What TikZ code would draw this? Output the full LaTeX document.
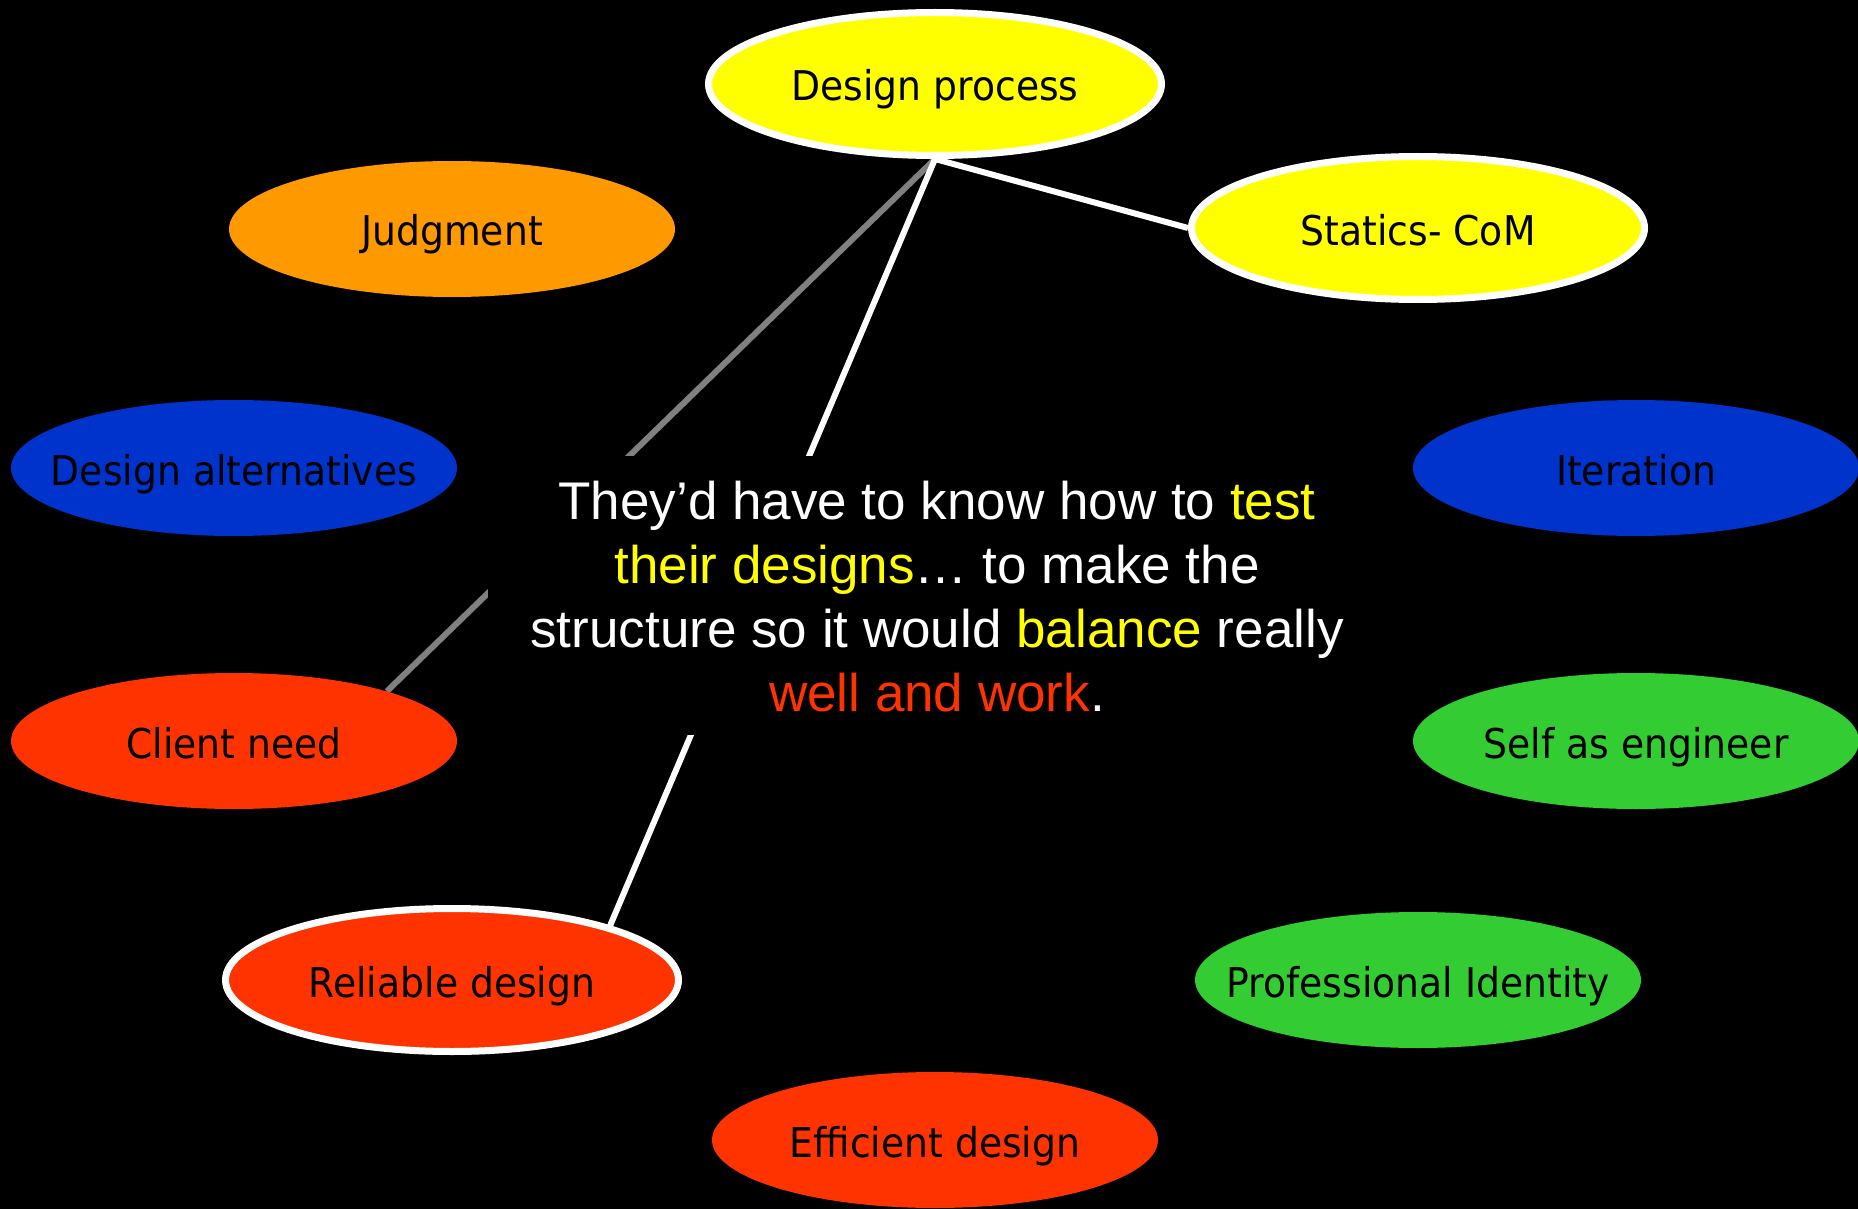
\documentclass[tikz,border=0pt]{standalone}
\usepackage{fontspec}
\newfontfamily\ellfont[FakeStretch=0.92]{DejaVu Sans}
\newfontfamily\quotefont{Liberation Sans}
\usetikzlibrary{shapes.geometric}
\definecolor{cyellow}{HTML}{FFFF00}
\definecolor{corange}{HTML}{FF9900}
\definecolor{cblue}{HTML}{0033CC}
\definecolor{cred}{HTML}{FF3300}
\definecolor{cgreen}{HTML}{33CC33}
\definecolor{cgray}{HTML}{808080}
\pgfdeclarelayer{bg}
\pgfsetlayers{bg,main}
\begin{document}
\begin{tikzpicture}[x=1pt,y=-1pt,
  concept/.style={ellipse, inner sep=0pt, minimum width=446pt, minimum height=136pt,
    text height=40pt, text depth=6pt, text=black,
    font=\ellfont\fontsize{41}{49}\selectfont},
  ringed/.style={concept, draw=white, line width=7pt, minimum width=453pt, minimum height=143pt},
  whiteline/.style={draw=white, line width=6pt},
  grayline/.style={draw=cgray, line width=6pt},
  quoteline/.style={anchor=base, inner sep=0pt, text=white,
    font=\quotefont\fontsize{53}{64}\selectfont},
  coverbox/.style={fill=black, inner sep=0pt, minimum width=896pt, minimum height=279pt}]
\useasboundingbox (0,0) rectangle (1858,1209);
\clip (0,0) rectangle (1858,1209);
\begin{pgfonlayer}{bg}
\fill[black] (0,0) rectangle (1858,1209);
\end{pgfonlayer}

\node[ringed, fill=cyellow] (dp) at (935,84) {\makebox[0pt]{Design process}};
\node[ringed, fill=cyellow] (st) at (1418,228) {\makebox[0pt]{Statics- CoM}};
\node[concept, fill=corange] (ju) at (452,229) {\makebox[0pt]{Judgment}};
\node[concept, fill=cblue] (da) at (234,468) {\makebox[0pt]{Design alternatives}};
\node[concept, fill=cblue] (it) at (1636,468) {\makebox[0pt]{Iteration}};
\node[concept, fill=cred] (cn) at (234,741) {\makebox[0pt]{Client need}};
\node[concept, fill=cgreen] (se) at (1636,741) {\makebox[0pt]{Self as engineer}};
\node[ringed, fill=cred] (rd) at (452,980) {\makebox[0pt]{Reliable design}};
\node[concept, fill=cgreen] (pi) at (1418,980) {\makebox[0pt]{Professional Identity}};
\node[concept, fill=cred] (ed) at (935,1140) {\makebox[0pt]{Efficient design}};

\begin{pgfonlayer}{bg}
\draw[whiteline] (dp.south) -- (st.west);
\draw[grayline] (dp.south) -- (cn.18);
\draw[whiteline] (dp.south) -- (rd.19);
\end{pgfonlayer}

\node[coverbox] (tb) at (936,595.5) {};
\node[quoteline] (q1) at (937,519) {They’d have to know how to \textcolor{cyellow}{test}};
\node[quoteline] (q2) at (937,583) {\textcolor{cyellow}{their designs}… to make the};
\node[quoteline] (q3) at (937,647) {structure so it would \textcolor{cyellow}{balance} really};
\node[quoteline] (q4) at (937,711) {\textcolor{cred}{well and work}.};
\end{tikzpicture}
\end{document}
